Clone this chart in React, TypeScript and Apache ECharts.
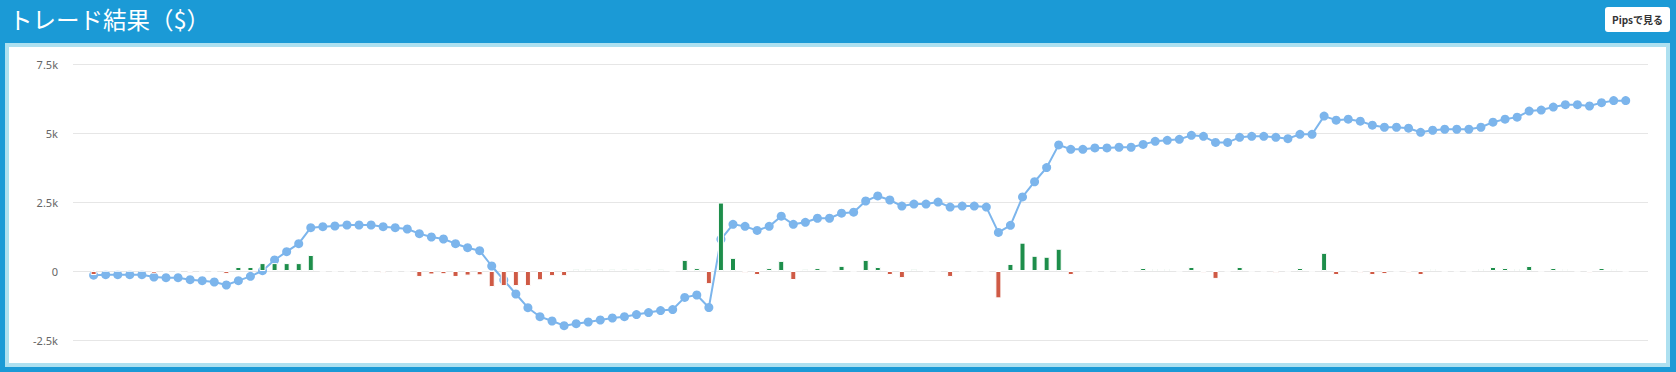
import React, { useEffect, useRef } from "react";
import * as echarts from "echarts";

// cumulative balance per trade ($)
const balance: number[] = [
  -150, -133, -133, -133, -133, -217, -242, -242, -314, -350,
  -399, -507, -350, -193, 10, 399, 700, 990, 1570, 1607,
  1631, 1667, 1667, 1667, 1607, 1570, 1522, 1353, 1232, 1160,
  990, 845, 737, 181, -326, -833, -1329, -1655, -1812, -1981,
  -1909, -1848, -1776, -1703, -1654, -1580, -1507, -1433, -1397, -956,
  -870, -1323, 1150, 1690, 1617, 1470, 1617, 1985, 1690, 1764,
  1911, 1911, 2095, 2132, 2536, 2720, 2573, 2352, 2426, 2426,
  2499, 2315, 2352, 2352, 2315, 1397, 1654, 2683, 3234, 3749,
  4569, 4410, 4410, 4459, 4459, 4484, 4484, 4587, 4697, 4734,
  4770, 4917, 4880, 4660, 4660, 4843, 4880, 4880, 4843, 4795,
  4953, 4953, 5612, 5466, 5502, 5429, 5283, 5209, 5209, 5173,
  5026, 5100, 5136, 5136, 5136, 5209, 5392, 5502, 5575, 5795,
  5832, 5941, 6027, 6027, 5978, 6100, 6173, 6173,
];

// profit / loss of each trade ($)
const profit: number[] = [
  -146, 0, 0, 0, 0, -96, 0, 0, -61, 0,
  0, -106, 146, 146, 286, 286, 286, 286, 581, 0,
  0, 0, 0, 0, -71, 0, 0, -216, -126, -116,
  -216, -166, -156, -581, -546, -546, -546, -336, -186, -186,
  66, 66, 66, 66, 66, 66, 66, 66, 0, 403,
  106, -476, 2480, 476, -76, -146, 106, 366, -326, 66,
  106, 0, 186, 0, 403, 146, -146, -256, 66, 0,
  0, -216, 0, 0, 0, -991, 256, 1026, 551, 516,
  806, -146, 0, 0, 0, 0, 0, 109, 73, 73,
  0, 146, -76, -286, 0, 146, 0, 0, -76, 0,
  109, 0, 658, -146, 0, -76, -146, -111, 0, -76,
  -146, 73, 0, 0, 0, 73, 146, 109, 73, 182,
  0, 109, 73, 0, -76, 109, 73, 0,
];

const yMin = -2500;
const yMax = 7500;
const yStep = 2500;

const title = "トレード結果（$）";
const buttonLabel = "Pipsで見る";

export default function App() {
  const ref = useRef<HTMLDivElement>(null);

  useEffect(() => {
    document.body.style.margin = "0";
    const chart = echarts.init(ref.current!, null, { renderer: "svg" });
    chart.setOption({
      animation: false,
      grid: { left: 64, right: 18, top: 17, bottom: 23 },
      xAxis: {
        type: "value",
        min: -1.71,
        max: 128.85,
        show: false,
        splitLine: { show: false },
      },
      yAxis: {
        type: "value",
        min: yMin,
        max: yMax,
        interval: yStep,
        axisLine: { show: false },
        axisTick: { show: false },
        splitLine: { lineStyle: { color: "#e6e6e6", width: 1 } },
        axisLabel: {
          margin: 15,
          color: "#666666",
          fontSize: 11,
          fontFamily: "Noto Sans",
          formatter: (v: number) => (v === 0 ? "0" : `${v / 1000}k`),
        },
      },
      series: [
        {
          type: "line",
          z: 2,
          data: balance.map((v, i) => [i, v]),
          symbol: "circle",
          symbolSize: 9,
          lineStyle: { color: "#7cb5ec", width: 2 },
          itemStyle: { color: "#7cb5ec" },
          emphasis: { disabled: true },
        },
        {
          type: "bar",
          z: 3,
          data: profit.map((v, i) => [i, v]),
          barWidth: 6,
          itemStyle: {
            borderColor: "#ffffff",
            borderWidth: 1,
            color: (p: any) => (p.value[1] >= 0 ? "#1e8e4b" : "#cf5a45"),
          },
          emphasis: { disabled: true },
        },
      ],
    });
    return () => chart.dispose();
  }, []);

  return (
    <div
      style={{
        position: "relative",
        width: 1676,
        height: 372,
        background: "#1b9ad6",
        overflow: "hidden",
        fontFamily: "'Noto Sans CJK JP', 'Noto Sans', sans-serif",
      }}
    >
      <div
        style={{
          position: "absolute",
          left: 9,
          top: 7,
          fontSize: 23.5,
          lineHeight: "24px",
          color: "#ffffff",
          whiteSpace: "nowrap",
        }}
      >
        {title}
      </div>
      <div
        style={{
          position: "absolute",
          left: 1605,
          top: 7,
          width: 65,
          height: 25,
          background: "#ffffff",
          borderRadius: 3,
          fontSize: 10,
          fontWeight: 700,
          color: "#333333",
          display: "flex",
          alignItems: "center",
          justifyContent: "center",
          whiteSpace: "nowrap",
        }}
      >
        {buttonLabel}
      </div>
      <div
        style={{
          position: "absolute",
          left: 5,
          top: 43,
          width: 1657,
          height: 316,
          border: "4px solid #ade0f0",
          background: "#ffffff",
        }}
      >
        <div ref={ref} style={{ width: 1657, height: 316 }} />
      </div>
    </div>
  );
}
